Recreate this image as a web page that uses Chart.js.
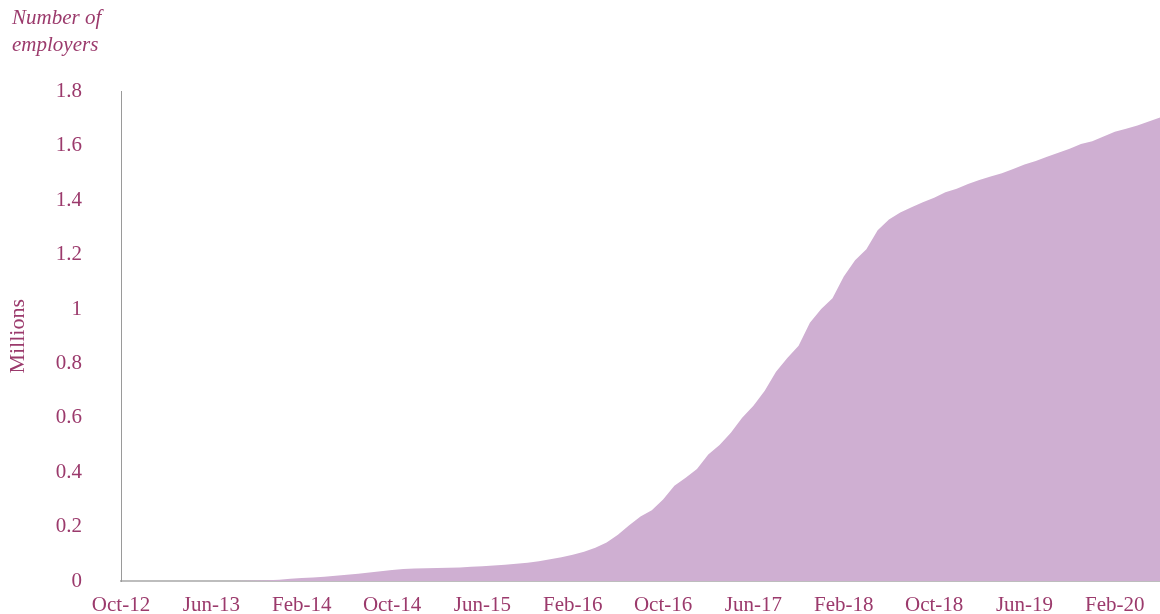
<!DOCTYPE html>
<html>
<head>
<meta charset="utf-8">
<script src="https://cdn.jsdelivr.net/npm/chart.js@4"></script>
<style>
  html, body { margin: 0; padding: 0; background: #fff; overflow: hidden; }
  canvas { display: block; }
</style>
</head>
<body>
<canvas id="employers-chart" width="1160" height="614"></canvas>
<script>
// Monthly categories, Oct-12 .. Jun-20
const monthNames = ["Jan", "Feb", "Mar", "Apr", "May", "Jun", "Jul", "Aug", "Sep", "Oct", "Nov", "Dec"];
const startMonth = 9;   // Oct
const startYear = 12;
const monthCount = 93;

// Only every 8th month gets a tick label
const labelEvery = 8;

// Number of employers, millions
const employers = [
  0, 0, 0, 0, 0, 0, 0, 0, 0, 0,
  0, 0.001, 0.002, 0.003, 0.005, 0.008, 0.011, 0.013, 0.016, 0.019,
  0.023, 0.027, 0.031, 0.036, 0.040, 0.044, 0.046, 0.047, 0.048, 0.049,
  0.050, 0.052, 0.054, 0.057, 0.060, 0.063, 0.067, 0.073, 0.080, 0.087,
  0.097, 0.108, 0.122, 0.142, 0.170, 0.205, 0.237, 0.260, 0.300, 0.350,
  0.380, 0.412, 0.465, 0.500, 0.545, 0.600, 0.645, 0.700, 0.770, 0.820,
  0.865, 0.950, 1.000, 1.040, 1.120, 1.180, 1.220, 1.290, 1.330, 1.355,
  1.375, 1.393, 1.410, 1.430, 1.443, 1.460, 1.475, 1.488, 1.500, 1.515,
  1.532, 1.545, 1.560, 1.575, 1.590, 1.607, 1.617, 1.635, 1.652, 1.663,
  1.675, 1.690, 1.705
];

const months = [];
for (let i = 0; i < monthCount; i++) {
  const m = (startMonth + i) % 12;
  const y = startYear + Math.floor((startMonth + i) / 12);
  months.push(monthNames[m] + "-" + y);
}

const textColor = "#9b3a6c";
const fillColor = "#cfafd2";
const serif = "'Liberation Serif', 'Times New Roman', serif";

const ctx = document.getElementById("employers-chart").getContext("2d");
new Chart(ctx, {
  type: "line",
  data: {
    labels: months,
    datasets: [{
      data: employers,
      fill: "origin",
      backgroundColor: fillColor,
      borderWidth: 0,
      pointRadius: 0,
      pointHoverRadius: 0,
      tension: 0
    }]
  },
  options: {
    responsive: false,
    animation: false,
    layout: { autoPadding: false, padding: { left: 12, right: 0, top: 0, bottom: 0 } },
    plugins: {
      legend: { display: false },
      tooltip: { enabled: false },
      title: {
        display: true,
        text: ["Number of", "employers"],
        align: "start",
        color: textColor,
        font: { family: serif, size: 21, style: "italic", weight: "normal", lineHeight: 1.3 },
        padding: { top: 5, bottom: 32 }
      }
    },
    scales: {
      x: {
        offset: false,
        grid: { display: false, drawTicks: false },
        border: { display: true, color: "#bdbdbd", width: 2 },
        ticks: {
          autoSkip: false,
          maxRotation: 0,
          minRotation: 0,
          padding: 12,
          color: textColor,
          font: { family: serif, size: 21 },
          callback: function (value, index) {
            return index % labelEvery === 0 ? this.getLabelForValue(value) : "";
          }
        },
        // fixed axis height, and no extra side padding so the area runs to the edge
        afterFit: (scale) => {
          scale.height = 33;
          scale.paddingLeft = 0;
          scale.paddingRight = 0;
        }
      },
      y: {
        min: 0,
        max: 1.8,
        grid: { display: false, drawTicks: false },
        border: { display: true, color: "#9a9a9a", width: 1 },
        ticks: {
          stepSize: 0.2,
          padding: 39,
          color: textColor,
          font: { family: serif, size: 21 },
          callback: (value) => String(+value.toFixed(1))
        },
        title: {
          display: true,
          text: "Millions",
          color: textColor,
          font: { family: serif, size: 22 },
          padding: { top: -7, bottom: 0 }
        },
        afterFit: (scale) => {
          scale.width = 109;
          scale.paddingTop = 0;
          scale.paddingBottom = 0;
        }
      }
    }
  }
});
</script>
</body>
</html>
